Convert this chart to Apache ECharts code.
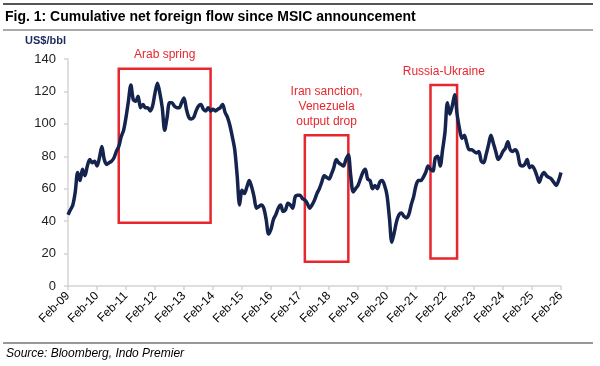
<!DOCTYPE html>
<html>
<head>
<meta charset="utf-8">
<script src="https://cdn.jsdelivr.net/npm/echarts@6/dist/echarts.min.js"></script>
<style>html,body{margin:0;padding:0;background:#fff;}#c{width:600px;height:366px;}</style>
</head>
<body>
<div id="c"></div>
<script>
// Monthly categories Feb-09 .. Feb-26
const monthNames = ['Jan','Feb','Mar','Apr','May','Jun','Jul','Aug','Sep','Oct','Nov','Dec'];
const categories = [];
for (let y = 2009, m = 1; y < 2026 || (y === 2026 && m <= 1); ) {
  categories.push(monthNames[m] + '-' + String(y % 100).padStart(2, '0'));
  m++; if (m === 12) { m = 0; y++; }
}
// Values by year block (Feb..Jan)
const v2009 = [44, 47, 50, 58, 70, 65, 72, 68, 74, 78, 76, 77];
const v2010 = [74, 79, 86, 78, 75, 76, 77, 79, 83, 86, 92, 96];
const v2011 = [104, 114, 124, 115, 114, 117, 110, 112, 110, 110, 108, 111];
const v2012 = [119, 125, 119, 110, 96, 104, 113, 113, 111, 110, 110, 113];
const v2013 = [116, 109, 104, 103, 104, 108, 111, 112, 109, 108, 110, 108];
const v2014 = [109, 108, 109, 110, 112, 107, 104, 99, 92, 84, 68, 50];
const v2015 = [59, 57, 61, 65, 61, 55, 48, 49, 50, 48, 41, 32];
const v2016 = [35, 41, 44, 48, 50, 46, 47, 51, 50, 48, 55, 56];
const v2017 = [56, 54, 53, 51, 48, 50, 53, 57, 60, 64, 68, 67];
const v2018 = [66, 69, 73, 78, 76, 75, 74, 78, 81, 68, 58, 60];
const v2019 = [62, 66, 70, 72, 66, 65, 60, 62, 60, 64, 65, 62];
const v2020 = [56, 42, 27, 33, 40, 44, 45, 43, 42, 44, 50, 55];
const v2021 = [62, 65, 65, 67, 70, 74, 72, 71, 79, 80, 74, 84];
const v2022 = [95, 113, 106, 111, 118, 106, 97, 91, 93, 88, 84, 84];
const v2023 = [83, 82, 83, 77, 76, 81, 87, 93, 88, 83, 78, 80];
const v2024 = [83, 85, 89, 84, 83, 84, 82, 75, 74, 75, 78, 73];
const v2025 = [74, 72, 68, 64, 68, 70, 68, 67, 66, 64, 62, 65, 70];
const values = [].concat(v2009, v2010, v2011, v2012, v2013, v2014, v2015, v2016,
  v2017, v2018, v2019, v2020, v2021, v2022, v2023, v2024, v2025);

// Annotation boxes
const boxLabels = ['Arab spring', 'Iran sanction,\nVenezuela\noutput drop', 'Russia-Ukraine'];
const boxStart = ['Nov-10', 'Apr-17', 'Aug-21'];
const boxEnd = ['Jan-14', 'Oct-18', 'Jul-22'];
const boxLow = [39, 15, 17];
const boxHigh = [134, 93, 124];

const RED = '#e8262d';
const FONT = 'Liberation Sans, Arial, sans-serif';

const chart = echarts.init(document.getElementById('c'), null, {renderer: 'canvas'});
chart.setOption({
  animation: false,
  textStyle: {fontFamily: FONT},
  title: {
    text: 'Fig. 1: Cumulative net foreign flow since MSIC announcement',
    left: 5, top: 10, padding: 0,
    textStyle: {fontFamily: FONT, fontWeight: 'bold', fontSize: 14, color: '#000'}
  },
  graphic: [
    {type: 'line', shape: {x1: 3, y1: 4, x2: 593, y2: 4}, style: {stroke: '#555', lineWidth: 2}},
    {type: 'line', shape: {x1: 3, y1: 30, x2: 593, y2: 30}, style: {stroke: '#555', lineWidth: 1}},
    {type: 'line', shape: {x1: 3, y1: 343, x2: 593, y2: 343}, style: {stroke: '#333', lineWidth: 1}},
    {type: 'text', left: 25, top: 35, style: {text: 'US$/bbl', fontFamily: FONT, fontWeight: 'bold', fontSize: 11, fill: '#1b2a5c'}},
    {type: 'text', left: 6, top: 348, style: {text: 'Source: Bloomberg, Indo Premier', fontFamily: FONT, fontStyle: 'italic', fontSize: 12, fill: '#000'}}
  ],
  grid: {left: 68, right: 39, top: 59, bottom: 80},
  xAxis: {
    type: 'category',
    data: categories,
    boundaryGap: false,
    axisLine: {lineStyle: {color: '#d4d4d4', width: 1.5}},
    axisTick: {show: true, interval: 11, length: 4, lineStyle: {color: '#d4d4d4', width: 1.5}},
    axisLabel: {interval: 11, rotate: 45, fontSize: 12, color: '#000', margin: 8, fontFamily: FONT}
  },
  yAxis: {
    type: 'value', min: 0, max: 140, interval: 20,
    axisLine: {show: true, lineStyle: {color: '#d4d4d4', width: 1.5}},
    axisTick: {show: true, length: 4, lineStyle: {color: '#d4d4d4', width: 1.5}},
    axisLabel: {fontSize: 13, color: '#222', margin: 12, fontFamily: FONT},
    splitLine: {show: false}
  },
  series: [{
    type: 'line',
    data: values,
    showSymbol: false,
    smooth: 0.3,
    lineStyle: {color: '#15244f', width: 3.5},
    markArea: {
      silent: true,
      itemStyle: {color: 'rgba(0,0,0,0)', borderColor: RED, borderWidth: 2.5},
      label: {position: 'top', color: RED, fontSize: 12, distance: 5, lineHeight: 15, fontFamily: FONT},
      data: boxLabels.map((t, i) => [
        {name: t, xAxis: boxStart[i], yAxis: boxHigh[i]},
        {xAxis: boxEnd[i], yAxis: boxLow[i]}
      ])
    }
  }]
});
</script>
</body>
</html>
